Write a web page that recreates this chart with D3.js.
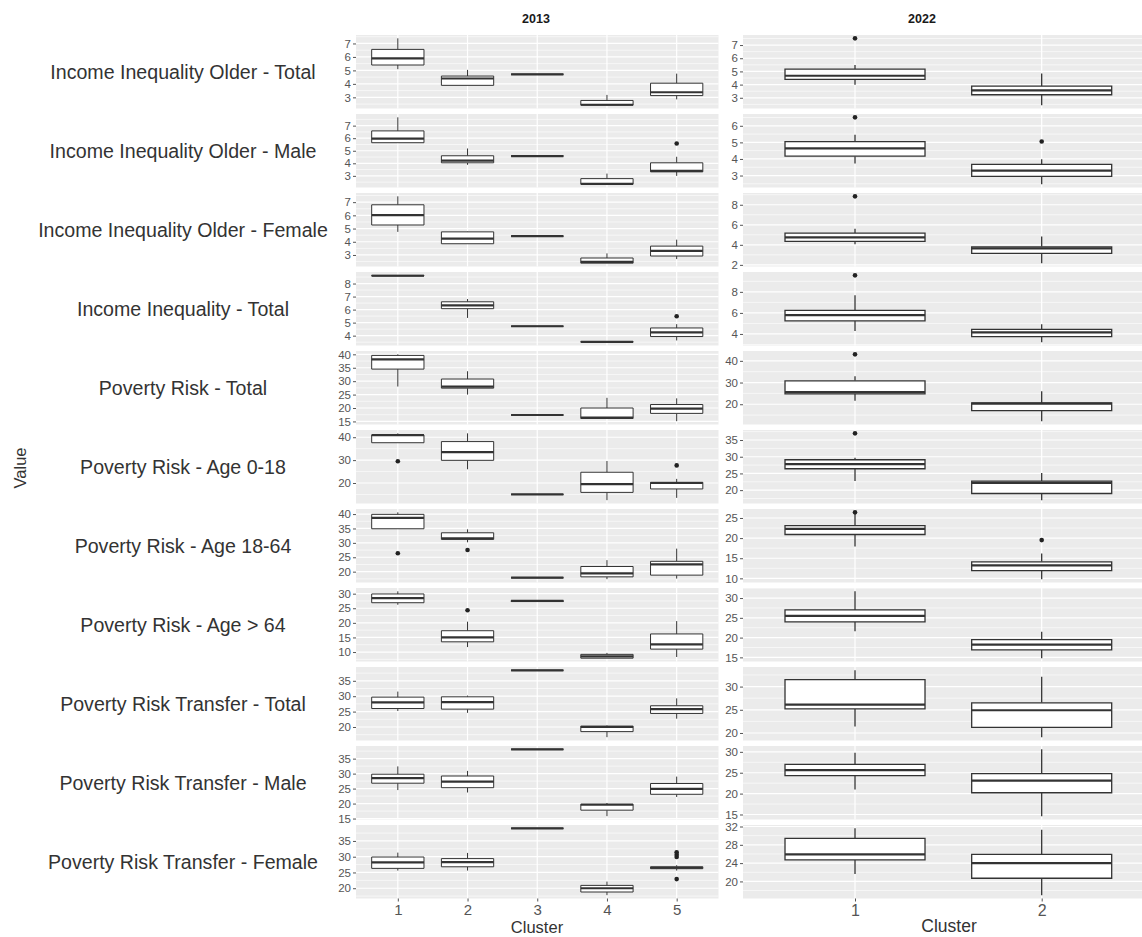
<!DOCTYPE html>
<html><head><meta charset="utf-8">
<script src="https://cdn.jsdelivr.net/npm/d3@7"></script>
<style>
body{margin:0;background:#fff;}
text{font-family:"Liberation Sans",Arial,Helvetica,sans-serif;}
</style>
</head><body>
<svg id="chart" width="1142" height="937"></svg>
<script>
// ---------------- DATA ----------------
const years = ["2013", "2022"];
const rowLabels = [
  "Income Inequality Older - Total",
  "Income Inequality Older - Male",
  "Income Inequality Older - Female",
  "Income Inequality - Total",
  "Poverty Risk - Total",
  "Poverty Risk - Age 0-18",
  "Poverty Risk - Age 18-64",
  "Poverty Risk - Age > 64",
  "Poverty Risk Transfer - Total",
  "Poverty Risk Transfer - Male",
  "Poverty Risk Transfer - Female"
];
const clusters2013 = ["1", "2", "3", "4", "5"];
const clusters2022 = ["1", "2"];

// [lower whisker, Q1, median, Q3, upper whisker] per cluster, per row
const stats2013 = [
  [[5.09,5.40,5.90,6.56,7.38],[3.89,3.89,4.40,4.58,5.04],[4.71,4.71,4.71,4.71,4.71],[2.42,2.42,2.45,2.77,3.18],[2.85,3.13,3.38,4.05,4.76]],
  [[5.64,5.64,5.96,6.58,7.66],[3.88,4.04,4.22,4.60,5.18],[4.58,4.58,4.58,4.58,4.58],[2.34,2.34,2.36,2.78,3.18],[3.00,3.32,3.40,4.04,4.52]],
  [[4.75,5.27,6.02,6.80,7.44],[3.85,3.85,4.24,4.75,4.78],[4.42,4.42,4.42,4.42,4.42],[2.38,2.38,2.48,2.77,3.12],[2.69,2.92,3.31,3.67,4.16]],
  [[8.58,8.58,8.60,8.63,8.63],[5.36,6.07,6.33,6.60,6.81],[4.72,4.72,4.72,4.72,4.72],[3.50,3.50,3.52,3.55,3.55],[3.63,3.93,4.25,4.59,4.88]],
  [[28.0,34.5,38.1,39.6,40.0],[25.0,27.4,28.0,30.8,33.7],[17.4,17.4,17.4,17.4,17.4],[16.1,16.1,16.4,20.0,23.8],[15.1,18.0,19.8,21.3,23.6]],
  [[37.6,37.6,40.9,41.0,41.7],[26.0,29.9,33.5,38.1,41.7],[15.0,15.0,15.0,15.0,15.0],[12.5,15.9,19.5,24.7,29.6],[13.5,17.4,20.0,20.3,21.8]],
  [[34.9,34.9,38.7,39.9,40.6],[30.2,31.2,31.6,33.5,34.7],[17.9,17.9,17.9,17.9,17.9],[17.4,18.2,19.4,21.8,24.0],[17.6,18.8,22.5,23.6,28.0]],
  [[26.2,26.9,28.5,29.9,30.8],[11.7,13.5,15.0,17.3,20.4],[27.3,27.3,27.5,27.6,27.6],[7.9,7.9,8.5,9.2,9.7],[8.3,11.0,12.6,16.2,20.6]],
  [[25.2,26.0,28.0,29.7,31.5],[24.6,25.8,28.1,29.8,30.2],[38.4,38.4,38.4,38.4,38.4],[16.7,18.5,20.0,20.3,20.5],[22.7,24.4,25.8,26.9,29.3]],
  [[24.5,26.8,28.5,29.8,32.4],[23.7,25.3,27.3,29.2,30.9],[38.1,38.1,38.1,38.1,38.1],[15.8,17.8,19.6,19.8,20.2],[22.2,23.1,24.9,26.7,29.0]],
  [[25.6,26.3,28.2,29.9,31.3],[25.6,26.8,28.3,29.4,31.2],[39.0,39.0,39.0,39.0,39.0],[17.8,18.8,20.0,20.9,22.1],[25.6,26.2,26.5,26.8,27.3]]
];
const outliers2013 = [
  [[],[],[],[],[]],
  [[],[],[],[],[5.58]],
  [[],[],[],[],[]],
  [[],[],[],[],[5.49]],
  [[],[],[],[],[]],
  [[29.5],[],[],[],[27.7]],
  [[26.4],[27.5],[],[],[]],
  [[],[24.3],[],[],[]],
  [[],[],[],[],[]],
  [[],[],[],[],[]],
  [[],[],[],[],[31.4,30.6,29.9,22.9]]
];

const stats2022 = [
  [[3.99,4.39,4.67,5.18,5.48],[2.44,3.23,3.56,3.88,4.85]],
  [[3.73,4.17,4.64,5.05,5.46],[2.48,2.95,3.30,3.67,3.98]],
  [[4.07,4.34,4.74,5.17,5.60],[2.17,3.14,3.65,3.80,4.84]],
  [[4.28,5.24,5.79,6.24,7.68],[3.22,3.74,4.15,4.44,4.92]],
  [[21.6,24.8,25.6,30.8,32.9],[12.2,17.1,20.3,20.6,26.0]],
  [[22.7,26.4,27.8,29.1,29.7],[17.0,19.0,22.2,22.7,25.1]],
  [[17.9,20.9,22.3,23.1,26.0],[9.8,11.9,13.2,14.1,16.2]],
  [[21.6,24.0,25.5,27.0,31.7],[14.8,16.9,18.2,19.5,21.5]],
  [[21.4,25.2,26.1,31.5,33.5],[19.1,21.2,24.9,26.5,32.1]],
  [[21.0,24.3,25.6,27.0,29.8],[14.6,20.2,23.1,24.8,30.6]],
  [[21.6,24.7,25.9,29.4,31.6],[17.0,20.7,24.0,25.9,31.3]]
];
const outliers2022 = [
  [[7.51],[]],
  [[6.51],[5.05]],
  [[8.84],[]],
  [[9.57],[]],
  [[43.0],[]],
  [[37.0],[]],
  [[26.4],[19.5]],
  [[],[]],
  [[],[]],
  [[],[]],
  [[],[]]
];

const ticks2013 = [
  [3,4,5,6,7],[3,4,5,6,7],[3,4,5,6,7],[4,5,6,7,8],
  [15,20,25,30,35,40],[20,30,40],[20,25,30,35,40],[10,15,20,25,30],
  [20,25,30,35],[15,20,25,30,35],[20,25,30,35]
];
const ticks2022 = [
  [3,4,5,6,7],[3,4,5,6],[2,4,6,8],[4,6,8],
  [20,30,40],[20,25,30,35],[10,15,20,25],[15,20,25,30],
  [20,25,30],[15,20,25,30],[20,24,28,32]
];

// ---------------- LAYOUT ----------------
const svg = d3.select("#chart");
const rowTop0 = 35, rowStep = 79, rowH = 73.5;
const bottom = rowTop0 + 10 * rowStep + rowH;

const x2013 = d3.scalePoint().domain(clusters2013).range([356, 718.5]).padding(0.6);
const x2022 = d3.scalePoint().domain(clusters2022).range([743, 1153.7]).padding(0.6);

const cols = [
  {x: x2013, stats: stats2013, outs: outliers2013, ticks: ticks2013, sw: 1, title: years[0], titleX: 536, xFont: 15, clusterX: 537, clusterY: 933, clusterFont: 16.5},
  {x: x2022, stats: stats2022, outs: outliers2022, ticks: ticks2022, sw: 1.3, title: years[1], titleX: 922, xFont: 16, clusterX: 949, clusterY: 932, clusterFont: 17.5}
];

cols.forEach(col => {
  const xs = col.x;
  const [left, right] = xs.range();
  const bw = xs.step() * 0.75;
  const g = svg.append("g");

  g.append("text").attr("x", col.titleX)
    .attr("y", 23).attr("text-anchor", "middle")
    .attr("font-size", 12.5).attr("font-weight", "bold").attr("fill", "#1a1a1a")
    .text(col.title);

  col.stats.forEach((rowStats, i) => {
    const top = rowTop0 + i * rowStep;
    const vals = rowStats.flat().concat(col.outs[i].flat());
    const [mn, mx] = d3.extent(vals);
    const pad = (mx - mn) * 0.05;
    const y = d3.scaleLinear().domain([mn - pad, mx + pad]).range([top + rowH, top]);
    const pg = g.append("g");

    pg.append("rect").attr("x", left).attr("y", top)
      .attr("width", right - left).attr("height", rowH).attr("fill", "#EBEBEB");

    const tk = col.ticks[i];
    const stp = tk[1] - tk[0];
    const [d0, d1] = y.domain();
    const minors = d3.range(tk[0] - stp / 2, tk[tk.length - 1] + stp, stp).filter(v => v > d0 && v < d1);
    pg.selectAll(".mn").data(minors).join("line")
      .attr("x1", left).attr("x2", right)
      .attr("y1", d => y(d)).attr("y2", d => y(d))
      .attr("stroke", "#fff").attr("stroke-width", 0.6);
    pg.selectAll(".mj").data(tk).join("line")
      .attr("x1", left).attr("x2", right)
      .attr("y1", d => y(d)).attr("y2", d => y(d))
      .attr("stroke", "#fff").attr("stroke-width", 1.2);
    pg.selectAll(".vg").data(xs.domain()).join("line")
      .attr("x1", d => xs(d)).attr("x2", d => xs(d))
      .attr("y1", top).attr("y2", top + rowH)
      .attr("stroke", "#fff").attr("stroke-width", 1.2);

    const ax = pg.append("g").attr("transform", `translate(${left},0)`)
      .call(d3.axisLeft(y).tickValues(tk).tickFormat(d3.format("d")).tickSize(3).tickPadding(2));
    ax.select(".domain").remove();
    ax.selectAll(".tick line").attr("stroke", "#555").attr("stroke-width", 1);
    ax.selectAll(".tick text").attr("fill", "#555").attr("font-size", 11.5)
      .attr("font-family", '"Liberation Sans",Arial,sans-serif');

    rowStats.forEach((s, j) => {
      const cx = xs(xs.domain()[j]);
      const [lo, q1, med, q3, hi] = s;
      const bg = pg.append("g").attr("stroke", "#333").attr("fill", "none");
      bg.append("line").attr("x1", cx).attr("x2", cx).attr("y1", y(hi)).attr("y2", y(q3)).attr("stroke-width", col.sw);
      bg.append("line").attr("x1", cx).attr("x2", cx).attr("y1", y(q1)).attr("y2", y(lo)).attr("stroke-width", col.sw);
      bg.append("path")
        .attr("d", `M${cx - bw / 2},${y(q3)}H${cx + bw / 2}V${y(q1)}H${cx - bw / 2}Z`)
        .attr("fill", "#fff").attr("stroke-width", col.sw);
      bg.append("line").attr("x1", cx - bw / 2).attr("x2", cx + bw / 2)
        .attr("y1", y(med)).attr("y2", y(med)).attr("stroke-width", 2.2);
      pg.selectAll(null).data(col.outs[i][j]).join("circle")
        .attr("cx", cx).attr("cy", d => y(d)).attr("r", 2.3).attr("fill", "#222");
    });
  });

  const xa = g.append("g").attr("transform", `translate(0,${bottom})`)
    .call(d3.axisBottom(xs).tickSize(3).tickPadding(3));
  xa.select(".domain").remove();
  xa.selectAll(".tick line").attr("stroke", "#555");
  xa.selectAll(".tick text").attr("fill", "#555").attr("font-size", col.xFont)
    .attr("font-family", '"Liberation Sans",Arial,sans-serif');

  g.append("text").attr("x", col.clusterX).attr("y", col.clusterY)
    .attr("text-anchor", "middle").attr("font-size", col.clusterFont).attr("fill", "#333")
    .text("Cluster");
});

svg.selectAll(".rl").data(rowLabels).join("text")
  .attr("x", 183).attr("y", (d, i) => rowTop0 + i * rowStep + rowH / 2)
  .attr("dy", "0.35em").attr("text-anchor", "middle")
  .attr("font-size", 19.6).attr("fill", "#333").text(d => d);

svg.append("text").attr("transform", "translate(26,468) rotate(-90)")
  .attr("text-anchor", "middle").attr("font-size", 16.5).attr("fill", "#333").text("Value");
</script>
</body></html>
